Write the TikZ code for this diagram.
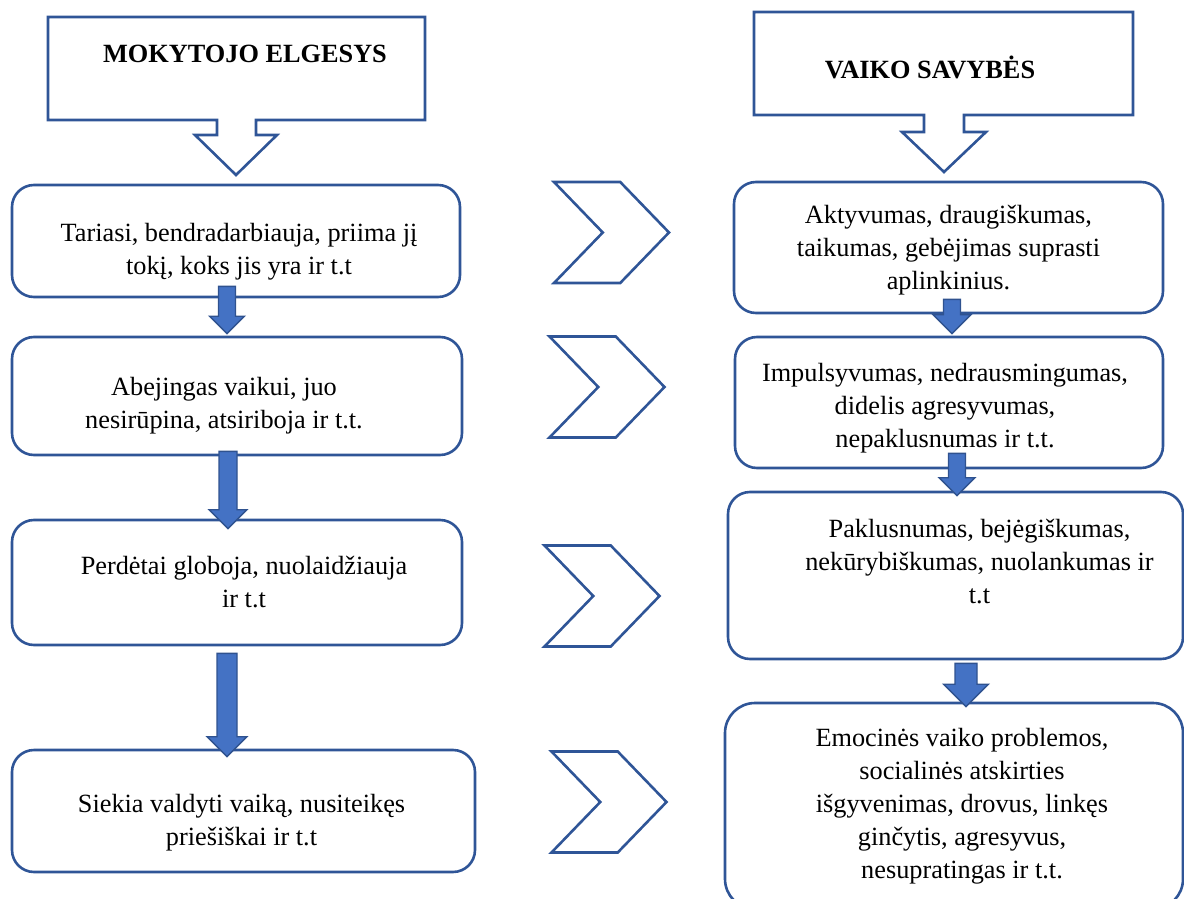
\documentclass[tikz,border=0pt]{standalone}
\usepackage{fontspec}
\setmainfont{Liberation Serif}
\usetikzlibrary{calc,shapes.symbols}

\definecolor{boxblue}{HTML}{2F5597}
\definecolor{arrfill}{HTML}{4472C4}
\definecolor{arrline}{HTML}{2F528F}

\tikzset{
  stepbox/.style={draw=boxblue, line width=2.6pt, rounded corners=22pt,
    inner sep=0pt, font=\fontsize{26.3}{33}\selectfont},
  headline/.style={draw=boxblue, line width=2.6pt, line join=miter},
  headtext/.style={font=\bfseries\fontsize{26.3}{33}\selectfont, inner sep=0pt},
  chevron/.style={shape=signal, signal from=west, signal to=east,
    signal pointer angle=92, draw=boxblue, line width=2.6pt, inner sep=0pt,
    minimum width=115pt, minimum height=101pt},
  blockarr/.style={fill=arrfill, draw=arrline, line width=1.4pt, line join=miter}
}

% lines of a box, moved by dx (right) and dy (up)
\newcommand{\boxlines}[3]{\hspace*{#1}\raisebox{#2}[\height][\depth]{%
  \begin{tabular}{@{}c@{}}#3\end{tabular}}\hspace*{-#1}}

% block arrow: from, to, x shift, start above from.south, apex below to.north, shaft half, head half
\newcommand{\blockarrow}[7]{%
  \path ($(#1.south)+(#3,-#4)$) coordinate (bt) (bt |- #2.north) coordinate (bb);
  \draw[blockarr] ($(bt)+(-#6,0)$) -- ($(bt)+(#6,0)$) -- ($(bb)+(#6,#5-#7)$)
    -- ($(bb)+(#7,#5-#7)$) -- ($(bb)+(0,#5)$) -- ($(bb)+(-#7,#5-#7)$)
    -- ($(bb)+(-#6,#5-#7)$) -- cycle;}

\begin{document}
\begin{tikzpicture}[x=1pt, y=-1pt]
  \useasboundingbox (0,0) rectangle (1184,899);

  % headings
  \draw[headline] (48,17) -- (425,17) -- (425,120) -- (256,120) -- (256,135)
    -- (277,135) -- (236,175) -- (195,135) -- (217,135) -- (217,120) -- (48,120) -- cycle;
  \node[headtext] (lhead) at (245,54) {MOKYTOJO ELGESYS};

  \draw[headline] (754,12) -- (1133,12) -- (1133,115) -- (964,115) -- (964,132)
    -- (986,132) -- (944,172) -- (902,132) -- (924,132) -- (924,115) -- (754,115) -- cycle;
  \node[headtext] (rhead) at (930,67) {VAIKO SAVYBĖS};

  % mokytojo elgesys
  \node[stepbox, minimum width=448pt, minimum height=112pt] (l1) at (236,241)
    {\boxlines{3pt}{-10pt}{Tariasi, bendradarbiauja, priima jį\\tokį, koks jis yra ir t.t}};
  \node[stepbox, minimum width=450pt, minimum height=118pt] (l2) at (237,396)
    {\boxlines{-13pt}{-9pt}{Abejingas vaikui, juo\\nesirūpina, atsiriboja ir t.t.}};
  \node[stepbox, minimum width=450pt, minimum height=125pt] (l3) at (237,582.5)
    {\boxlines{7pt}{-2pt}{Perdėtai globoja, nuolaidžiauja\\ir t.t}};
  \node[stepbox, minimum width=463pt, minimum height=122pt] (l4) at (243.5,811)
    {\boxlines{-2pt}{-11pt}{Siekia valdyti vaiką, nusiteikęs\\priešiškai ir t.t}};

  % vaiko savybes
  \node[stepbox, minimum width=429pt, minimum height=131pt] (r1) at (948.5,247.5)
    {\boxlines{0pt}{-2pt}{Aktyvumas, draugiškumas,\\taikumas, gebėjimas suprasti\\aplinkinius.}};
  \node[stepbox, minimum width=428pt, minimum height=131pt] (r2) at (949,402.5)
    {\boxlines{-4pt}{-5pt}{Impulsyvumas, nedrausmingumas,\\didelis agresyvumas,\\nepaklusnumas ir t.t.}};
  \node[stepbox, minimum width=455pt, minimum height=167pt] (r3) at (955.5,575.5)
    {\boxlines{24pt}{12pt}{Paklusnumas, bejėgiškumas,\\nekūrybiškumas, nuolankumas ir\\t.t}};
  \node[stepbox, rounded corners=30pt, minimum width=458pt, minimum height=206pt] (r4) at (954,806)
    {\boxlines{8pt}{0pt}{Emocinės vaiko problemos,\\socialinės atskirties\\išgyvenimas, drovus, linkęs\\ginčytis, agresyvus,\\nesupratingas ir t.t.}};

  % chevrons
  \node[chevron] (ch1) at (611.5,232.5) {};
  \node[chevron] (ch2) at (607,387) {};
  \node[chevron] (ch3) at (602,596) {};
  \node[chevron] (ch4) at (609,802) {};

  % blue arrows
  \blockarrow{l1}{l2}{-9}{12}{-2}{8.5}{17.5}
  \blockarrow{l2}{l3}{-9}{5}{10}{9}{19}
  \blockarrow{l3}{l4}{-10}{-7}{8}{10}{20}
  \blockarrow{r1}{r2}{3.5}{15}{-2}{8.5}{19}
  \blockarrow{r2}{r3}{8}{16}{5}{8.5}{18}
  \blockarrow{r3}{r4}{10.5}{-3}{5}{11}{22.5}
\end{tikzpicture}
\end{document}
